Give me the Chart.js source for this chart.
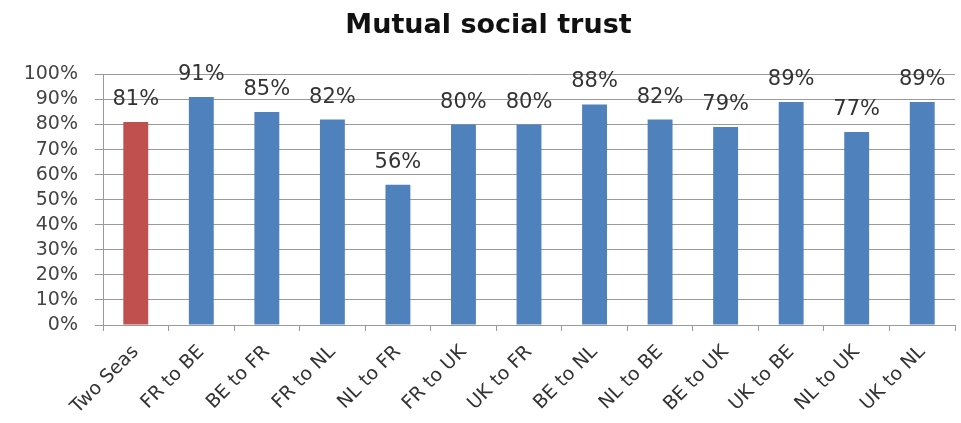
<!DOCTYPE html>
<html>
<head>
<meta charset="utf-8">
<script src="https://cdn.jsdelivr.net/npm/chart.js@4"></script>
<style>
  html, body { margin: 0; padding: 0; background: #fff; }
  #wrap { width: 961px; height: 423px; }
</style>
</head>
<body>
<div id="wrap"><canvas id="trustChart"></canvas></div>
<script>
const categories = ['Two Seas','FR to BE','BE to FR','FR to NL','NL to FR','FR to UK','UK to FR','BE to NL','NL to BE','BE to UK','UK to BE','NL to UK','UK to NL'];
const trustValues = [81, 91, 85, 82, 56, 80, 80, 88, 82, 79, 89, 77, 89];
const barColors = ['#C0504D','#4F81BD','#4F81BD','#4F81BD','#4F81BD','#4F81BD','#4F81BD','#4F81BD','#4F81BD','#4F81BD','#4F81BD','#4F81BD','#4F81BD'];
const yTicks = [0, 10, 20, 30, 40, 50, 60, 70, 80, 90, 100];

// value labels above each bar
const valueLabels = {
  id: 'valueLabels',
  afterDatasetsDraw(chart) {
    const ctx = chart.ctx;
    const meta = chart.getDatasetMeta(0);
    ctx.save();
    ctx.font = '21px "DejaVu Sans"';
    ctx.fillStyle = '#333';
    ctx.textAlign = 'center';
    ctx.textBaseline = 'alphabetic';
    meta.data.forEach((bar, i) => {
      ctx.fillText(trustValues[i] + '%', bar.x, bar.y - 17);
    });
    ctx.restore();
  }
};

new Chart(document.getElementById('trustChart'), {
  type: 'bar',
  data: {
    labels: categories,
    datasets: [{
      data: trustValues,
      backgroundColor: barColors,
      barPercentage: 0.38,
      categoryPercentage: 1
    }]
  },
  options: {
    responsive: true,
    maintainAspectRatio: false,
    animation: false,
    layout: { padding: { top: 5, left: 22, right: 6, bottom: 0 } },
    plugins: {
      legend: { display: false },
      tooltip: { enabled: false },
      title: {
        display: true,
        text: 'Mutual social trust',
        color: '#111',
        font: { family: 'DejaVu Sans', size: 27, weight: 'bold' },
        padding: { top: 5, bottom: 32 }
      }
    },
    scales: {
      y: {
        min: 0,
        max: 100,
        afterBuildTicks(scale) { scale.ticks = yTicks.map(v => ({ value: v })); },
        afterFit(scale) { scale.width = 81; },
        ticks: {
          autoSkip: false,
          callback: v => v + '%',
          color: '#444',
          font: { family: 'DejaVu Sans', size: 19 },
          padding: 17
        },
        grid: { color: '#999', lineWidth: 1, tickLength: 8 },
        border: { color: '#999' }
      },
      x: {
        afterFit(scale) { scale.height = 98; },
        ticks: {
          autoSkip: false,
          minRotation: 45,
          maxRotation: 45,
          color: '#333',
          font: { family: 'DejaVu Sans', size: 19 },
          padding: 10
        },
        grid: { drawOnChartArea: false, drawTicks: true, tickLength: 6, color: '#999', offset: true },
        border: { color: '#999' }
      }
    }
  },
  plugins: [valueLabels]
});
</script>
</body>
</html>
